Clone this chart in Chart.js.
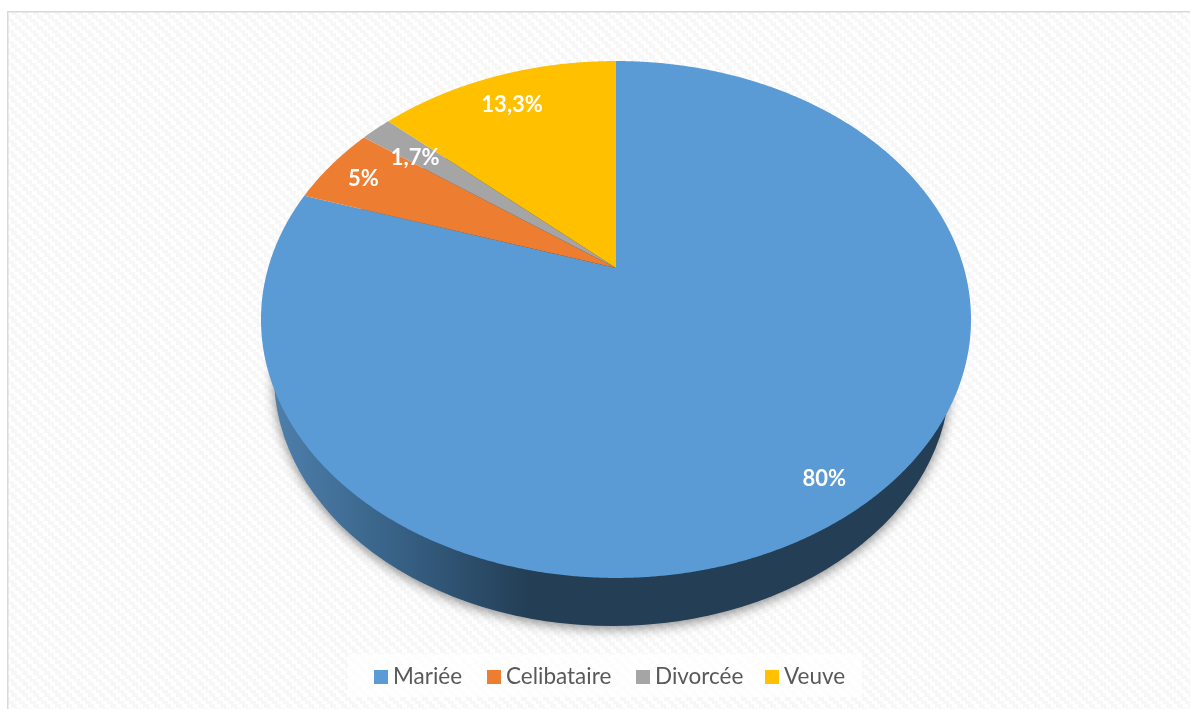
<!DOCTYPE html>
<html lang="fr">
<head>
<meta charset="utf-8">
<title>Situation matrimoniale</title>
<script src="https://cdn.jsdelivr.net/npm/chart.js@4/dist/chart.umd.js"></script>
<style>
  html, body { margin: 0; padding: 0; background: #fff; overflow: hidden; }
  #wrap { position: relative; width: 1190px; height: 709px; }
  #pie { display: block; }
  #legend {
    position: absolute; left: 348px; top: 654px; width: 514px; height: 43px;
    background: rgba(255, 255, 255, 0.75);
    font: 22.5px Lato, sans-serif; color: #595959;
  }
  #legend span { position: absolute; top: 0; line-height: 43px; white-space: nowrap; }
  #legend i { position: absolute; top: 16px; width: 14px; height: 14px; }
</style>
</head>
<body>
<div id="wrap">
  <canvas id="pie" width="1190" height="709"></canvas>
  <div id="legend"></div>
</div>
<script>
// Data
const categories = ['Mariée', 'Celibataire', 'Divorcée', 'Veuve'];
const shares = [80, 5, 1.7, 13.3]; // percent
const sliceColors = ['#5b9bd5', '#ed7d31', '#a5a5a5', '#ffc000'];

// Projection of the unit pie onto the tilted disc
const APEX_X = 616;
const APEX_Y = 268;
const SCALE_X = 347.9;
const SCALE_Y = 248.2;
const PERSPECTIVE = -0.1992;

// Lower rim of the disc wall
const RIM = { x: 612, y: 376, rx: 338, ry: 250 };

// Label placement along each slice's mid angle
const LABEL_RADIUS = [0.875, 0.88, 0.82, 0.85];
const LABEL_DROP = [6, 3, 6, 4];

// Legend columns, relative to the legend box
const LEGEND_BOX_X = [26, 139, 288, 417];
const LEGEND_TEXT_X = [45, 158, 307, 436];

// Background hatch, one column offset per tile row
const HATCH_OFFSETS = [0, 0, 0, 0, 4, 4, 4, 4, 8, 8, 8];
const HATCH_WIDTH = 6;

function project(angle, r) {
    const u = Math.cos(angle) * r;
    const v = Math.sin(angle) * r;
    const w = 1 + PERSPECTIVE * v;
    return { x: APEX_X + SCALE_X * u / w, y: APEX_Y + SCALE_Y * v / w };
}

function stripePattern(ctx) {
    const size = HATCH_OFFSETS.length;
    const tile = document.createElement('canvas');
    tile.width = tile.height = size;
    const t = tile.getContext('2d');
    t.fillStyle = '#fff';
    t.fillRect(0, 0, size, size);
    t.fillStyle = '#f7f7f7';
    HATCH_OFFSETS.forEach((offset, row) => {
        for (let x = 0; x < HATCH_WIDTH; x++) {
            t.fillRect((x + offset) % size, row, 1, 1);
        }
    });
    return ctx.createPattern(tile, 'repeat');
}

const backdrop = {
    id: 'backdrop',
    beforeDraw(chart) {
        const { ctx, width, height } = chart;
        ctx.save();
        ctx.fillStyle = '#fff';
        ctx.fillRect(0, 0, width, height);
        ctx.fillStyle = stripePattern(ctx);
        ctx.fillRect(8, 12, width - 8, height - 12);
        ctx.fillStyle = '#d9d9d9';
        ctx.fillRect(7, 11, width - 7, 1.5);
        ctx.fillRect(7, 11, 1.5, height - 11);
        ctx.restore();
    }
};

const tiltedPie = {
    id: 'tiltedPie',
    beforeDatasetDraw(chart, args) {
        const ctx = chart.ctx;
        ctx.save();

        // wall, with its soft drop shadow
        const wall = ctx.createLinearGradient(280, 0, 530, 0);
        wall.addColorStop(0, '#4c7eaa');
        wall.addColorStop(0.5, '#365f83');
        wall.addColorStop(1, '#233e55');
        ctx.shadowColor = 'rgba(0, 0, 0, 0.45)';
        ctx.shadowBlur = 12;
        ctx.shadowOffsetY = 3;
        ctx.fillStyle = wall;
        ctx.beginPath();
        ctx.ellipse(RIM.x, RIM.y, RIM.rx, RIM.ry, 0, 0, Math.PI * 2);
        ctx.fill();
        ctx.shadowColor = 'transparent';

        // top face
        args.meta.data.forEach((arc, i) => {
            ctx.fillStyle = sliceColors[i];
            ctx.beginPath();
            ctx.moveTo(APEX_X, APEX_Y);
            const steps = Math.ceil((arc.endAngle - arc.startAngle) / 0.005);
            for (let s = 0; s <= steps; s++) {
                const p = project(arc.startAngle + (arc.endAngle - arc.startAngle) * s / steps, 1);
                ctx.lineTo(p.x, p.y);
            }
            ctx.closePath();
            ctx.fill();
        });
        ctx.restore();
        return false;
    },
    afterDatasetsDraw(chart) {
        const ctx = chart.ctx;
        ctx.save();
        ctx.font = 'bold 22px Lato, sans-serif';
        ctx.fillStyle = '#fff';
        ctx.textAlign = 'center';
        ctx.textBaseline = 'middle';
        chart.getDatasetMeta(0).data.forEach((arc, i) => {
            const p = project((arc.startAngle + arc.endAngle) / 2, LABEL_RADIUS[i]);
            ctx.fillText(String(shares[i]).replace('.', ',') + '%', p.x, p.y + LABEL_DROP[i]);
        });
        ctx.restore();
    }
};

function buildLegend() {
    const legend = document.getElementById('legend');
    categories.forEach((name, i) => {
        const box = document.createElement('i');
        box.style.left = LEGEND_BOX_X[i] + 'px';
        box.style.background = sliceColors[i];
        const label = document.createElement('span');
        label.style.left = LEGEND_TEXT_X[i] + 'px';
        label.textContent = name;
        legend.append(box, label);
    });
}

new Chart(document.getElementById('pie'), {
    type: 'pie',
    data: {
        labels: categories,
        datasets: [{
            data: shares,
            backgroundColor: sliceColors,
            borderWidth: 0
        }]
    },
    options: {
        responsive: false,
        animation: false,
        plugins: {
            legend: { display: false },
            tooltip: { enabled: false }
        }
    },
    plugins: [backdrop, tiltedPie]
});

buildLegend();
</script>
</body>
</html>
